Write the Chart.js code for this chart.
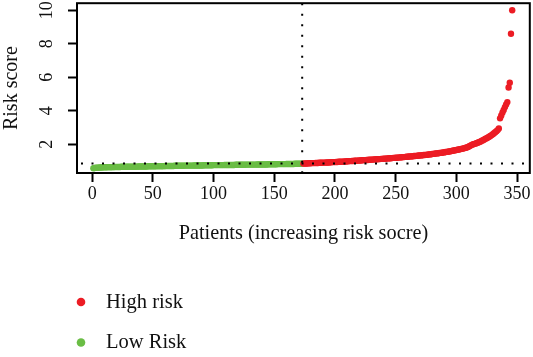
<!DOCTYPE html>
<html>
<head>
<meta charset="utf-8">
<script src="https://cdn.jsdelivr.net/npm/chart.js@4/dist/chart.umd.min.js"></script>
<style>
html,body{margin:0;padding:0;background:#fff;}
#wrap{width:533px;height:357px;position:relative;}
canvas{display:block;}
</style>
</head>
<body>
<div id="wrap"><canvas id="c" width="533" height="357"></canvas></div>
<script>
// ---- data ----
const lowRiskScores = [
0.57,0.59,0.60,0.61,0.61,0.62,0.62,0.62,0.63,0.63,
0.63,0.63,0.64,0.64,0.64,0.64,0.64,0.65,0.65,0.65,
0.65,0.65,0.65,0.66,0.66,0.66,0.66,0.66,0.66,0.66,
0.67,0.67,0.67,0.67,0.67,0.67,0.67,0.68,0.68,0.68,
0.68,0.68,0.68,0.68,0.68,0.69,0.69,0.69,0.69,0.69,
0.69,0.69,0.70,0.70,0.70,0.70,0.70,0.70,0.70,0.71,
0.71,0.71,0.71,0.71,0.71,0.71,0.71,0.72,0.72,0.72,
0.72,0.72,0.72,0.72,0.72,0.73,0.73,0.73,0.73,0.73,
0.73,0.73,0.73,0.74,0.74,0.74,0.74,0.74,0.74,0.74,
0.74,0.75,0.75,0.75,0.75,0.75,0.75,0.75,0.75,0.76,
0.76,0.76,0.76,0.76,0.76,0.76,0.76,0.76,0.77,0.77,
0.77,0.77,0.77,0.77,0.77,0.77,0.77,0.78,0.78,0.78,
0.78,0.78,0.78,0.78,0.78,0.78,0.79,0.79,0.79,0.79,
0.79,0.79,0.79,0.79,0.79,0.80,0.80,0.80,0.80,0.80,
0.80,0.80,0.80,0.80,0.81,0.81,0.81,0.81,0.81,0.81,
0.81,0.81,0.82,0.82,0.82,0.82,0.82,0.82,0.82,0.83,
0.83,0.83,0.83,0.83,0.83,0.83,0.84,0.84,0.84,0.84,
0.84,0.84,0.85
];
const highRiskScores = [
0.85,0.86,0.86,0.86,0.87,0.87,0.87,0.88,0.88,0.88,
0.89,0.89,0.89,0.90,0.90,0.90,0.91,0.91,0.91,0.92,
0.92,0.92,0.93,0.93,0.94,0.94,0.94,0.95,0.95,0.96,
0.96,0.96,0.97,0.97,0.98,0.98,0.99,0.99,1.00,1.00,
1.01,1.01,1.02,1.02,1.03,1.03,1.04,1.04,1.05,1.05,
1.06,1.06,1.07,1.07,1.08,1.08,1.09,1.09,1.10,1.10,
1.11,1.11,1.12,1.12,1.13,1.13,1.14,1.14,1.15,1.16,
1.16,1.17,1.17,1.18,1.19,1.19,1.20,1.20,1.21,1.22,
1.22,1.23,1.24,1.24,1.25,1.26,1.26,1.27,1.28,1.28,
1.29,1.30,1.30,1.31,1.32,1.33,1.33,1.34,1.35,1.36,
1.36,1.37,1.38,1.39,1.40,1.41,1.42,1.43,1.44,1.45,
1.46,1.47,1.48,1.49,1.50,1.51,1.52,1.54,1.55,1.56,
1.57,1.59,1.60,1.62,1.63,1.65,1.66,1.68,1.69,1.71,
1.73,1.74,1.76,1.78,1.80,1.83,1.86,1.90,1.94,1.98,
2.01,2.03,2.05,2.08,2.11,2.14,2.17,2.21,2.25,2.29,
2.33,2.37,2.41,2.45,2.50,2.55,2.60,2.66,2.72,2.78,
2.85,2.95,3.55,3.72,3.90,4.05,4.22,4.38,4.52,5.39,
5.67,8.60,10.00
];
const seriesLabels = ['High risk', 'Low Risk'];
const seriesColors = ['#EC1C24', '#6ABD45'];
const xTickValues = [0, 50, 100, 150, 200, 250, 300, 350];
const yTickValues = [2, 4, 6, 8, 10];
const cutoffPatient = 173;
const cutoffScore = 0.85;
const xTitle = 'Patients (increasing risk socre)';
const yTitle = 'Risk score';

// ---- build point tables ----
const lowPoints = lowRiskScores.map((v, i) => ({ x: i + 1, y: v }));
const highPoints = highRiskScores.map((v, i) => ({ x: lowRiskScores.length + i + 1, y: v }));

const FONT = "'Liberation Serif', 'Times New Roman', serif";
const INK = '#111';

const refLines = {
  id: 'refLines',
  afterDatasetsDraw(chart) {
    const { ctx, chartArea: a, scales: { x, y } } = chart;
    ctx.save();
    ctx.strokeStyle = '#000';
    ctx.lineWidth = 2;
    ctx.setLineDash([2, 8.5]);
    const px = x.getPixelForValue(cutoffPatient);
    ctx.beginPath(); ctx.moveTo(px, a.top); ctx.lineTo(px, a.bottom); ctx.stroke();
    const py = y.getPixelForValue(cutoffScore);
    ctx.beginPath(); ctx.moveTo(a.left + 4, py); ctx.lineTo(a.right, py); ctx.stroke();
    ctx.restore();
  }
};

const frame = {
  id: 'frame',
  afterDraw(chart) {
    const { ctx, chartArea: a } = chart;
    ctx.save();
    ctx.strokeStyle = '#000';
    ctx.lineWidth = 2;
    ctx.strokeRect(a.left, a.top, a.right - a.left, a.bottom - a.top);
    ctx.restore();
  }
};

const pointLegend = {
  id: 'pointLegend',
  afterDraw(chart) {
    const { ctx } = chart;
    ctx.save();
    ctx.font = '20.5px ' + FONT;
    ctx.textBaseline = 'middle';
    ctx.textAlign = 'left';
    chart.data.datasets.forEach((ds, i) => {
      const cy = 302 + i * 40.5;
      ctx.fillStyle = ds.backgroundColor;
      ctx.beginPath(); ctx.arc(81, cy, 4.3, 0, Math.PI * 2); ctx.fill();
      ctx.fillStyle = INK;
      ctx.fillText(ds.label, 106, cy + 0.5);
    });
    ctx.restore();
  }
};

new Chart(document.getElementById('c'), {
  type: 'scatter',
  data: {
    datasets: [
      { label: seriesLabels[0], data: highPoints, backgroundColor: seriesColors[0], borderWidth: 0, pointRadius: 3.2, pointHoverRadius: 3.2 },
      { label: seriesLabels[1], data: lowPoints, backgroundColor: seriesColors[1], borderWidth: 0, pointRadius: 3.2, pointHoverRadius: 3.2 }
    ]
  },
  options: {
    responsive: false,
    devicePixelRatio: 1,
    animation: false,
    events: [],
    layout: { padding: { top: 3, right: 3, bottom: 357 - 173 - 75, left: 0 } },
    plugins: { legend: { display: false }, tooltip: { enabled: false } },
    scales: {
      x: {
        type: 'linear', position: 'bottom', min: -12.5, max: 360.5,
        afterBuildTicks: s => { s.ticks = xTickValues.map(v => ({ value: v })); },
        afterFit: s => { s.height = 75; s.paddingLeft = 0; s.paddingRight = 0; },
        ticks: { font: { family: FONT, size: 18 }, color: INK, padding: 1, maxRotation: 0, autoSkip: false },
        grid: { drawOnChartArea: false, drawTicks: true, tickLength: 9, tickWidth: 2, tickColor: '#000' },
        border: { display: false },
        title: { display: true, text: xTitle, color: INK, font: { family: FONT, size: 20.3 }, padding: { top: 0, bottom: 2 } }
      },
      y: {
        type: 'linear', position: 'left', min: 0.29, max: 10.42,
        afterBuildTicks: s => { s.ticks = yTickValues.map(v => ({ value: v })); },
        afterFit: s => { s.width = 77; s.paddingTop = 0; s.paddingBottom = 0; },
        ticks: { font: { family: FONT, size: 18 }, color: INK, padding: 12, minRotation: 90, maxRotation: 90, crossAlign: 'center', autoSkip: false },
        grid: { drawOnChartArea: false, drawTicks: true, tickLength: 9, tickWidth: 2, tickColor: '#000' },
        border: { display: false },
        title: { display: true, text: yTitle, color: INK, font: { family: FONT, size: 20 }, padding: { top: 0, bottom: 0 } }
      }
    }
  },
  plugins: [refLines, frame, pointLegend]
});
</script>
</body>
</html>
